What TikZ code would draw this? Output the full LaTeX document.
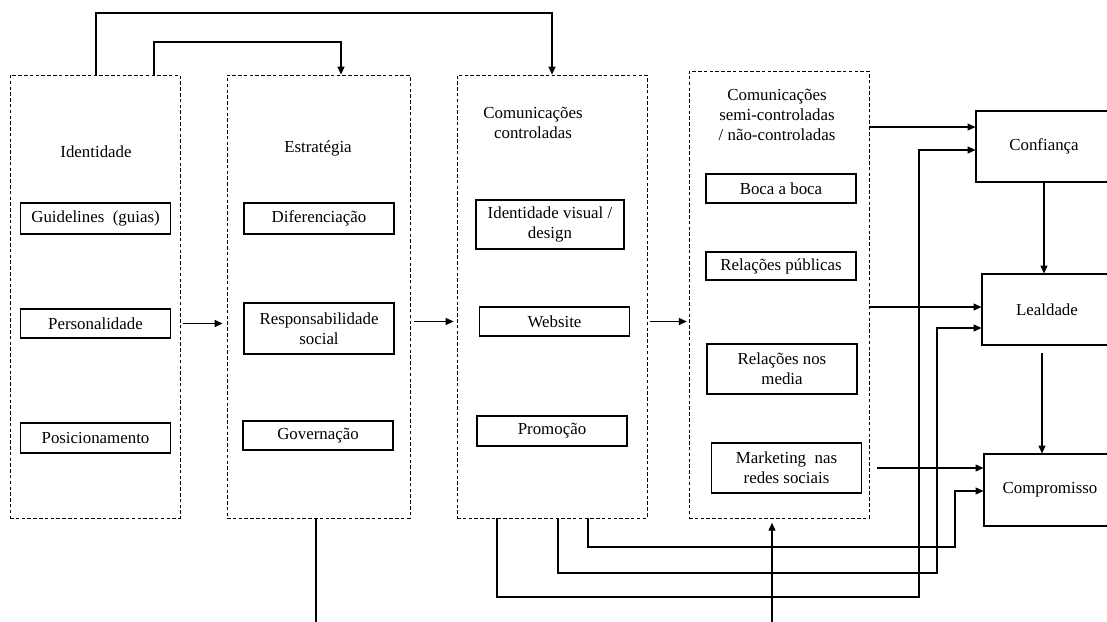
\documentclass[tikz,border=0pt]{standalone}
\usepackage{fontspec}
\setmainfont{Liberation Serif}
\usetikzlibrary{arrows.meta}

\tikzset{
  bigbox/.style={draw, dash pattern=on 2pt off 1.3pt, line width=0.5pt, inner sep=0pt},
  itembox/.style={draw, line width=0.6pt, minimum width=3cm, align=center, inner sep=1pt},
  goalbox/.style={draw, line width=0.6pt, minimum height=1.42cm, align=center},
  arr/.style={line width=0.6pt, -{Triangle[length=4.5pt,width=4pt]}},
  lnk/.style={line width=0.6pt}
}

\begin{document}
\begin{tikzpicture}[x=0.02cm, y=-0.02cm, font=\fontsize{9.6}{11.4}\selectfont]
  \clip (0,0) rectangle (1107,622);

  % dashed columns
  \node[bigbox, minimum width=3.4cm, minimum height=8.86cm] (ident) at (95,296.5) {};
  \node[bigbox, minimum width=3.66cm, minimum height=8.86cm] (estr) at (318.5,296.5) {};
  \node[bigbox, minimum width=3.8cm, minimum height=8.86cm] (ccon) at (552,296.5) {};
  \node[bigbox, minimum width=3.6cm, minimum height=8.94cm] (csem) at (779,294.5) {};

  \node (tIdent) at (96,152) {Identidade};
  \node (tEstr) at (318,148) {Estratégia};
  \node[align=center] (tCcon) at (533,123) {Comunicações\\controladas};
  \node[align=center] (tCsem) at (777,115) {Comunicações\\semi-controladas\\/ não-controladas};

  \node[itembox, minimum height=0.62cm] (guid) at (95.5,218.5) {Guidelines~~(guias)};
  \node[itembox, minimum height=0.58cm] (pers) at (95.5,323.5) {Personalidade};
  \node[itembox, minimum height=0.6cm] (posi) at (95.5,438) {Posicionamento};

  \node[itembox, minimum height=0.62cm] (dife) at (319,218.5) {Diferenciação};
  \node[itembox, minimum height=1.02cm] (resp) at (319,328.5) {Responsabilidade\\social};
  \node[itembox, minimum height=0.58cm] (gove) at (318,435.5) {Governação};

  \node[itembox, minimum width=2.96cm, minimum height=0.98cm] (idvi) at (550,224.5) {Identidade visual~/\\design};
  \node[itembox, minimum height=0.58cm] (webs) at (554.5,321.5) {Website};
  \node[itembox, minimum height=0.6cm] (prom) at (552,431) {Promoção};

  \node[itembox, minimum height=0.58cm] (boca) at (781,188.5) {Boca a boca};
  \node[itembox, minimum height=0.56cm] (rpub) at (781,266) {Relações públicas};
  \node[itembox, minimum height=1cm] (rmed) at (782,369) {Relações nos\\media};
  \node[itembox, minimum height=1cm] (mark) at (786.5,468) {Marketing~~nas\\redes sociais};

  \node[goalbox, minimum width=2.72cm] (conf) at (1044,146.5) {Confiança};
  \node[goalbox, minimum width=2.6cm] (leal) at (1047,309.5) {Lealdade};
  \node[goalbox, minimum width=2.64cm, minimum height=1.44cm] (comp) at (1050,490) {Compromisso};

  % top links
  \coordinate (topA) at (96,13);
  \coordinate (topB) at (154,42);
  \draw[arr] (ident.north -| topA) -- (topA) -| (ccon.north);
  \draw[arr] (ident.north -| topB) -- (topB) -| ([xshift=0.45cm]estr.north);

  \draw[arr, shorten <=1.7pt, shorten >=2.3pt] (ident.east |- pers) -- (estr.west |- pers);
  \draw[arr, shorten <=2.3pt, shorten >=1.7pt] (estr.east |- webs) -- (ccon.west |- webs);
  \draw[arr, shorten <=1.7pt, shorten >=1pt] (ccon.east |- webs) -- (csem.west |- webs);

  % into the three outcomes
  \coordinate (inC1) at ([yshift=0.39cm]conf.west);
  \coordinate (inC2) at ([yshift=-0.07cm]conf.west);
  \coordinate (inL1) at ([yshift=0.05cm]leal.west);
  \coordinate (inL2) at ([yshift=-0.37cm]leal.west);
  \coordinate (inP1) at ([yshift=0.44cm]comp.west);
  \coordinate (inP2) at ([yshift=-0.02cm]comp.west);

  \draw[arr] (csem.east |- inC1) -- (inC1);
  \draw[arr] (csem.east |- inL1) -- (inL1);
  \draw[arr, shorten <=4.5pt] (csem.east |- inP1) -- (inP1);

  \coordinate (lp1) at (955,547);
  \coordinate (lp2) at (937,573);
  \coordinate (lp3) at (919,597);
  \draw[arr] ([xshift=0.72cm]ccon.south) |- (lp1) -- (lp1 |- inP2) -- (inP2);
  \draw[arr] ([xshift=0.12cm]ccon.south) |- (lp2) -- (lp2 |- inL2) -- (inL2);
  \draw[arr] ([xshift=-1.1cm]ccon.south) |- (lp3) -- (lp3 |- inC2) -- (inC2);

  \draw[arr] (conf.south) -- (conf.south |- leal.north);
  \coordinate (lcS) at ([xshift=-0.1cm]leal.south);
  \draw[arr, shorten <=4.5pt] (lcS) -- (lcS |- comp.north);

  % bottom
  \coordinate (botE) at (316,622);
  \coordinate (botC) at (772,622);
  \draw[lnk] (estr.south -| botE) -- (botE);
  \draw[arr, shorten >=2.5pt] (botC) -- (botC |- csem.south);
\end{tikzpicture}
\end{document}
